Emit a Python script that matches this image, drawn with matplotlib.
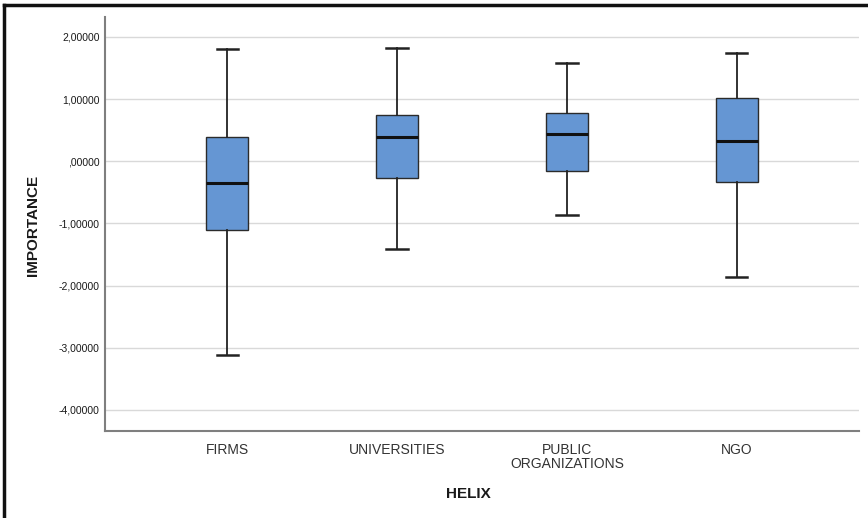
import matplotlib
matplotlib.use("Agg")
import matplotlib.pyplot as plt
from matplotlib.lines import Line2D

categories = ["FIRMS", "UNIVERSITIES", "PUBLIC\nORGANIZATIONS", "NGO"]
whislo = [-3.12, -1.41, -0.87, -1.86]
q1 = [-1.11, -0.27, -0.16, -0.34]
med = [-0.35, 0.39, 0.43, 0.32]
q3 = [0.39, 0.74, 0.77, 1.01]
whishi = [1.80, 1.82, 1.58, 1.74]
yticks = [2, 1, 0, -1, -2, -3, -4]
ytick_labels = ["2,00000", "1,00000", ",00000", "-1,00000", "-2,00000", "-3,00000", "-4,00000"]

plt.rcParams['font.family'] = ['Liberation Sans', 'DejaVu Sans']

fig = plt.figure(figsize=(8.68, 5.18), dpi=100)
ax = fig.add_axes([105/868, 1 - 431/518, (859-105)/868, (431-17)/518])

stats = []
for i in range(len(categories)):
    stats.append(dict(whislo=whislo[i], q1=q1[i], med=med[i], q3=q3[i], whishi=whishi[i], fliers=[]))

ax.bxp(stats, positions=range(len(categories)), widths=0.25, patch_artist=True,
       showfliers=False,
       boxprops=dict(facecolor="#6596d3", edgecolor="#2b2b2b", linewidth=1.0),
       medianprops=dict(color="#111111", linewidth=2.2),
       whiskerprops=dict(color="#222222", linewidth=1.3),
       capprops=dict(color="#222222", linewidth=1.8),
       capwidths=0.125, zorder=3)

ax.set_xlim(-0.72, 3.72)
ax.set_ylim(-4.34, 2.32)
ax.set_yticks(yticks)
ax.set_yticklabels(ytick_labels, fontsize=7.5, color="#1a1a1a")
ax.set_xticks(range(len(categories)))
ax.set_xticklabels(categories, fontsize=10, color="#333333", linespacing=0.95)
ax.tick_params(axis='both', length=0, pad=4)
ax.tick_params(axis='x', pad=9)
ax.grid(axis='y', color="#d9d9d9", linewidth=1.0, zorder=0)
ax.set_axisbelow(True)
for s in ['top', 'right']:
    ax.spines[s].set_visible(False)
for s in ['left', 'bottom']:
    ax.spines[s].set_color("#7f7f7f")
    ax.spines[s].set_linewidth(1.5)

fig.text(33/868, 1 - 225/518, "IMPORTANCE", rotation=90, ha='center', va='center',
         fontsize=11, fontweight='bold', color="#1a1a1a")
fig.text(468/868, 1 - 494/518, "HELIX", ha='center', va='center',
         fontsize=11, fontweight='bold', color="#1a1a1a")

# outer frame (left and top)
fig.add_artist(Line2D([4/868, 4/868], [0, 1 - 5/518], transform=fig.transFigure, color="#111111", linewidth=2.5))
fig.add_artist(Line2D([4/868, 1], [1 - 5/518, 1 - 5/518], transform=fig.transFigure, color="#111111", linewidth=2.5))

fig.savefig("out.png", dpi=100)
